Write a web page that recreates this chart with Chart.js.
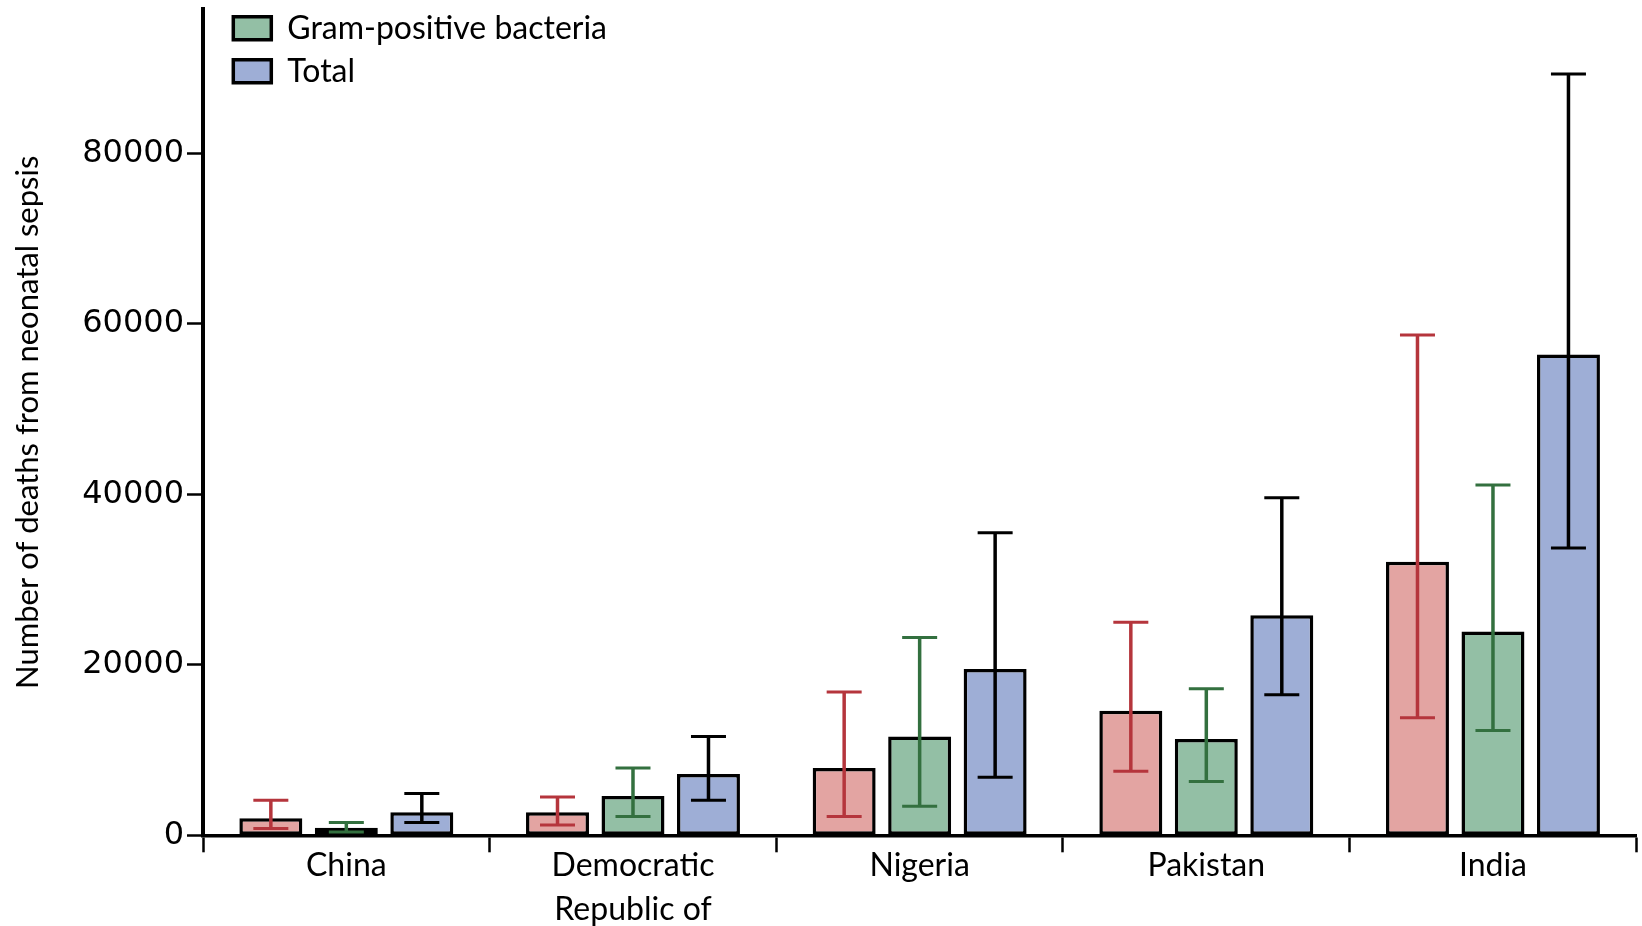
<!DOCTYPE html>
<html>
<head>
<meta charset="utf-8">
<script src="https://cdn.jsdelivr.net/npm/chart.js@4"></script>
<style>
html,body{margin:0;padding:0;background:#fff;}
#wrap{width:1642px;height:926px;position:relative;}
</style>
</head>
<body>
<div id="wrap"><canvas id="c"></canvas></div>
<script>
// ---- data ----
const categories = ["China", ["Democratic", "Republic of"], "Nigeria", "Pakistan", "India"];
const seriesNames = ["Gram-negative bacteria", "Gram-positive bacteria", "Total"];

const gramNeg     = [2000, 2700, 7900, 14600, 32100];
const gramNegLow  = [800, 1200, 2200, 7500, 13800];
const gramNegHigh = [4100, 4500, 16800, 25000, 58700];

const gramPos     = [900, 4600, 11600, 11300, 23900];
const gramPosLow  = [400, 2200, 3400, 6300, 12300];
const gramPosHigh = [1500, 7900, 23200, 17200, 41100];

const total       = [2700, 7200, 19500, 25800, 56400];
const totalLow    = [1500, 4100, 6800, 16500, 33700];
const totalHigh   = [4900, 11600, 35500, 39600, 89300];

const yTicks = [0, 20000, 40000, 60000, 80000];
const yMax = 96900;
const yTitle = "Number of deaths from neonatal sepsis";

// ---- plugins ----
const errorBars = {
  id: 'errorBars',
  afterDatasetsDraw(chart, args, opts) {
    const ctx = chart.ctx;
    const ys = chart.scales.y;
    chart.data.datasets.forEach((ds, i) => {
      const meta = chart.getDatasetMeta(i);
      if (meta.hidden) return;
      ctx.save();
      ctx.strokeStyle = ds.errorColor;
      ctx.lineCap = 'butt';
      meta.data.forEach((bar, j) => {
        const x = bar.x;
        const yl = ys.getPixelForValue(ds.errLow[j]);
        const yh = ys.getPixelForValue(ds.errHigh[j]);
        const hw = opts.capWidth / 2;
        ctx.lineWidth = opts.lineWidth;
        ctx.beginPath();
        ctx.moveTo(x, yl); ctx.lineTo(x, yh);
        ctx.stroke();
        ctx.lineWidth = opts.capLineWidth;
        ctx.beginPath();
        ctx.moveTo(x - hw, yl); ctx.lineTo(x + hw, yl);
        ctx.moveTo(x - hw, yh); ctx.lineTo(x + hw, yh);
        ctx.stroke();
      });
      ctx.restore();
    });
  }
};

const legendShift = {
  id: 'legendShift',
  afterLayout(chart, args, opts) {
    const l = chart.legend;
    if (l) {
      l.left = chart.chartArea.left + opts.dx;
      l.top = chart.chartArea.top + opts.dy;
    }
  }
};

function make() {
  new Chart(document.getElementById('c'), {
    type: 'bar',
    data: {
      labels: categories,
      datasets: [
        { label: seriesNames[0], data: gramNeg, errLow: gramNegLow, errHigh: gramNegHigh,
          backgroundColor: '#E3A4A2', errorColor: '#B5353C' },
        { label: seriesNames[1], data: gramPos, errLow: gramPosLow, errHigh: gramPosHigh,
          backgroundColor: '#93BFA5', errorColor: '#33703F' },
        { label: seriesNames[2], data: total, errLow: totalLow, errHigh: totalHigh,
          backgroundColor: '#9EAED6', errorColor: '#000000' }
      ].map(d => Object.assign(d, {
        borderColor: '#000', borderWidth: 3.5, borderSkipped: false,
        barPercentage: 0.834, categoryPercentage: 0.79
      }))
    },
    options: {
      responsive: true,
      maintainAspectRatio: false,
      devicePixelRatio: 1,
      animation: false,
      layout: { padding: { top: 9.3, right: 5.7, left: 0, bottom: 0 } },
      plugins: {
        tooltip: { enabled: false },
        legend: {
          position: 'chartArea',
          align: 'start',
          labels: {
            filter: (item) => item.datasetIndex !== 0,
            boxWidth: 38, boxHeight: 23, padding: 11,
            color: '#000',
            font: { family: 'Lato', size: 32 }
          }
        },
        errorBars: { lineWidth: 3.5, capLineWidth: 3, capWidth: 35 },
        legendShift: { dx: 19.3, dy: -8 }
      },
      scales: {
        x: {
          grid: { display: true, drawOnChartArea: false, drawTicks: true, tickLength: 17,
                  tickWidth: 2.5, tickColor: '#000', offset: true },
          border: { display: true, color: '#000', width: 3.5 },
          ticks: { color: '#000', font: { family: 'Lato', size: 32, lineHeight: 1.375 },
                   padding: -9, maxRotation: 0, minRotation: 0, autoSkip: false },
          afterFit(s) { s.height = 90.7; }
        },
        y: {
          min: 0, max: yMax,
          ticks: { stepSize: 20000, includeBounds: false, color: '#000',
                   font: { family: 'DejaVu Sans', size: 32, lineHeight: 0.15 }, padding: 3,
                   callback: (v) => String(v) },
          afterBuildTicks(s) { s.ticks = yTicks.map(v => ({ value: v })); },
          grid: { display: true, drawOnChartArea: false, tickLength: 16, tickWidth: 2.5, tickColor: '#000' },
          border: { display: true, color: '#000', width: 4 },
          title: { display: true, text: yTitle, color: '#000',
                   font: { family: 'Lato', size: 31 }, padding: { top: 9, bottom: 0 } },
          afterFit(s) { s.width = 203; }
        }
      }
    },
    plugins: [errorBars, legendShift]
  });
}

Promise.all([
  document.fonts.load('32px Lato'),
  document.fonts.load('32px "DejaVu Sans"')
]).then(make, make);
</script>
</body>
</html>
